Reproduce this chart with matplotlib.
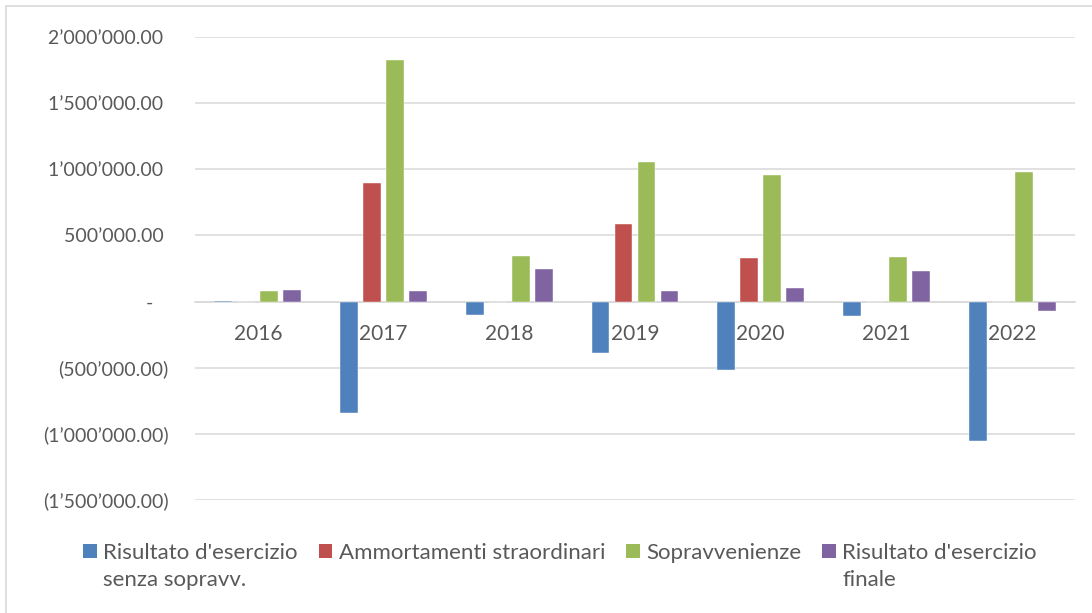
import matplotlib as mpl
import matplotlib.pyplot as plt
from matplotlib.patches import Patch, Rectangle
from matplotlib.ticker import FuncFormatter, MultipleLocator
import numpy as np


years = ["2016", "2017", "2018", "2019", "2020", "2021", "2022"]
risultato_senza = [3000, -845000, -103000, -385000, -521000, -111000, -1055000]
ammortamenti = [0, 895000, 0, 587000, 326000, 0, 0]
sopravvenienze = [83000, 1828000, 348000, 1053000, 956000, 340000, 976000]
risultato_finale = [90000, 82000, 246000, 83000, 101000, 228000, -73000]

series_labels = ["Risultato d'esercizio", "Ammortamenti straordinari",
                 "Sopravvenienze", "Risultato d'esercizio"]
second_lines = ["senza sopravv.", "", "", "finale"]
colors = ["#4F81BD", "#C0504D", "#9BBB59", "#8064A2"]

TEXT_GRAY = "#595959"
GRID_GRAY = "#D9D9D9"

mpl.rcParams["font.family"] = ["Lato", "DejaVu Sans"]


def fmt_value(v, pos=None):
    if abs(v) < 1:
        return "-   "
    s = "{:,.2f}".format(abs(v)).replace(",", "\u2019")
    if v < 0:
        return "(" + s + ")"
    return s + " "


fig = plt.figure(figsize=(10.92, 6.13), dpi=100)
ax = fig.add_axes([195 / 1092, 1 - 500 / 613, 880 / 1092, 463 / 613])

x = np.arange(len(years))
step = 0.183
width = 0.143
all_series = [risultato_senza, ammortamenti, sopravvenienze, risultato_finale]
for i, (vals, col) in enumerate(zip(all_series, colors)):
    ax.bar(x + (i - 1.5) * step, vals, width=width, color=col,
           edgecolor="white", linewidth=0.3, zorder=3)

ax.set_xlim(-0.5, len(years) - 0.5)
ax.set_ylim(-1500000, 2000000)
ax.yaxis.set_major_locator(MultipleLocator(500000))
ax.yaxis.set_major_formatter(FuncFormatter(fmt_value))
ax.grid(axis="y", color=GRID_GRAY, lw=1.1, zorder=0)

for side in ["left", "right", "top"]:
    ax.spines[side].set_visible(False)
ax.spines["bottom"].set_position(("data", 0))
ax.spines["bottom"].set_color(GRID_GRAY)
ax.spines["bottom"].set_linewidth(1.1)
ax.spines["bottom"].set_zorder(1)

ax.set_xticks(x)
ax.set_xticklabels(years)
ax.tick_params(axis="x", length=0, pad=16, labelsize=15, labelcolor=TEXT_GRAY)
ax.tick_params(axis="y", length=0, pad=19, labelsize=14, labelcolor=TEXT_GRAY)

handles = [Patch(facecolor=c, edgecolor="none") for c in colors]
leg = fig.legend(handles, series_labels, ncol=4, loc="upper left",
                 bbox_to_anchor=(83 / 1092, 1 - 543 / 613),
                 frameon=False, fontsize=16, handlelength=0.62,
                 handleheight=0.62, handletextpad=0.28, columnspacing=0.95,
                 borderpad=0, borderaxespad=0)
for txt, extra in zip(leg.get_texts(), second_lines):
    txt.set_color(TEXT_GRAY)
    if extra:
        ann = mpl.text.Annotation(
            extra, xy=(0, 0), xycoords=txt, xytext=(0, -23),
            textcoords="offset pixels", va="baseline", ha="left",
            fontsize=16, color=TEXT_GRAY)
        ann.set_zorder(10)
        fig.add_artist(ann)

# chart area border (left and top edges visible)
fig.add_artist(Rectangle((6 / 1092, -0.1), 1.2, 1.1 - 6 / 613,
                         transform=fig.transFigure, fill=False,
                         edgecolor=GRID_GRAY, lw=1.2, clip_on=False))

fig.savefig("out.png", dpi=100)
